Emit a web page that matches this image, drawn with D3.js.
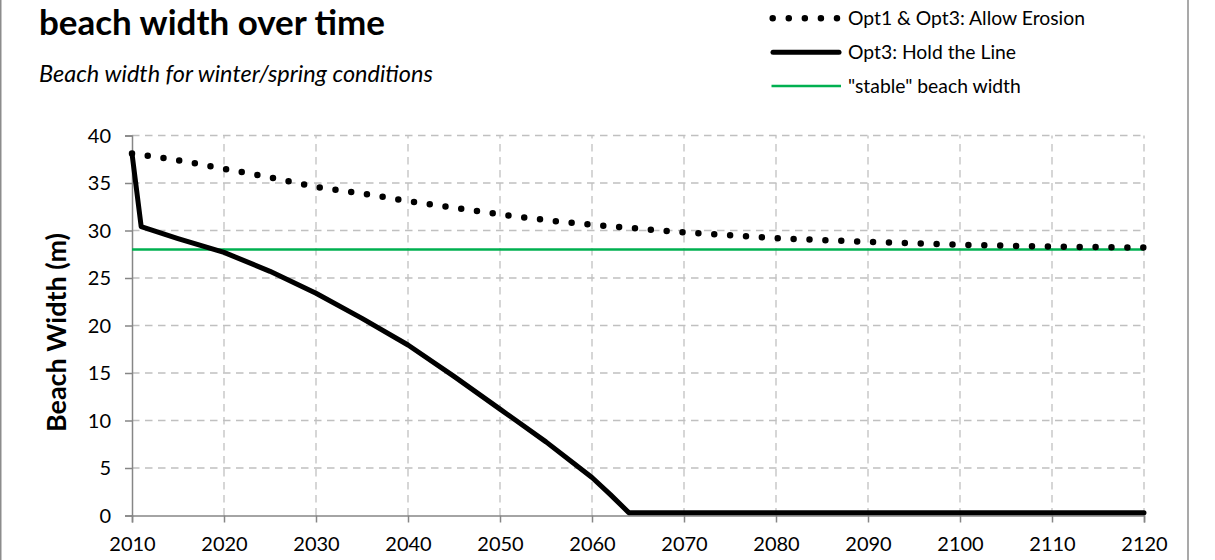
<!DOCTYPE html>
<html>
<head>
<meta charset="utf-8">
<script src="https://cdn.jsdelivr.net/npm/d3@7"></script>
<style>
  html, body { margin: 0; padding: 0; background: #fff; }
  svg { display: block; font-family: Lato, "Open Sans", sans-serif; }
</style>
</head>
<body>
<svg id="chart" width="1215" height="560"></svg>
<script>
// ---- data ----
const titleText = "beach width over time";
const subtitleText = "Beach width for winter/spring conditions";
const yAxisTitle = "Beach Width (m)";
const seriesNames = ["Opt1 & Opt3: Allow Erosion", "Opt3: Hold the Line", "\"stable\" beach width"];

const erosionYears  = [2010, 2015, 2020, 2025, 2030, 2035, 2040, 2045, 2050, 2055, 2060, 2065, 2070, 2075, 2080, 2085, 2090, 2095, 2100, 2105, 2110, 2115, 2120];
const erosionValues = [38.1, 37.4, 36.5, 35.6, 34.6, 33.9, 33.1, 32.4, 31.7, 31.1, 30.6, 30.2, 29.8, 29.5, 29.2, 29.0, 28.8, 28.65, 28.5, 28.4, 28.3, 28.25, 28.2];

const holdYears  = [2010, 2011, 2015, 2020, 2025, 2030, 2035, 2040, 2045, 2050, 2055, 2058, 2060, 2062, 2064, 2120];
const holdValues = [38.1, 30.4, 29.15, 27.7, 25.7, 23.4, 20.75, 17.95, 14.65, 11.2, 7.75, 5.5, 4.0, 2.2, 0.3, 0.3];

const stableYears  = [2010, 2120];
const stableValues = [28, 28];

const xTicks = [2010, 2020, 2030, 2040, 2050, 2060, 2070, 2080, 2090, 2100, 2110, 2120];
const yTicks = [0, 5, 10, 15, 20, 25, 30, 35, 40];

// ---- layout ----
const svg = d3.select("#chart");
const plot = { left: 132, right: 1144, top: 135.5, bottom: 515.5 };

const x = d3.scaleLinear().domain([2010, 2120]).range([plot.left, plot.right]);
const y = d3.scaleLinear().domain([0, 40]).range([plot.bottom, plot.top]);

function fitWidth(sel, target) {
  const w = sel.node().getComputedTextLength();
  const fs = parseFloat(sel.attr("font-size"));
  sel.attr("font-size", (fs * target / w).toFixed(2));
}

// chart frame (left and right edges visible)
svg.append("line").attr("x1", 0.75).attr("x2", 0.75).attr("y1", 0).attr("y2", 560)
  .attr("stroke", "#8c8c8c").attr("stroke-width", 1.5);
svg.append("line").attr("x1", 1188).attr("x2", 1188).attr("y1", 0).attr("y2", 560)
  .attr("stroke", "#8c8c8c").attr("stroke-width", 1.5);

// gridlines
const grid = svg.append("g");
grid.selectAll("line.h").data(yTicks.filter(d => d > 0)).join("line")
  .attr("x1", plot.left).attr("x2", plot.right)
  .attr("y1", d => y(d)).attr("y2", d => y(d))
  .attr("stroke", "#c0c0c0").attr("stroke-width", 1.3).attr("stroke-dasharray", "7.5,5.5");
grid.selectAll("line.v").data(xTicks.filter(d => d > 2010)).join("line")
  .attr("x1", d => x(d)).attr("x2", d => x(d))
  .attr("y1", plot.bottom).attr("y2", plot.top)
  .attr("stroke", "#c0c0c0").attr("stroke-width", 1.3).attr("stroke-dasharray", "7.5,5.5");

// axes
const yAxis = d3.axisLeft(y).tickValues(yTicks).tickSize(7).tickPadding(14).tickFormat(d3.format("d"));
const xAxis = d3.axisBottom(x).tickValues(xTicks).tickSize(7).tickPadding(13).tickFormat(d3.format("d"));

const gy = svg.append("g").attr("transform", `translate(${plot.left},0)`).call(yAxis);
const gx = svg.append("g").attr("transform", `translate(0,${plot.bottom})`).call(xAxis);
[gx, gy].forEach(g => {
  g.select(".domain").attr("stroke", "#868686").attr("stroke-width", 1.5);
  g.selectAll(".tick line").attr("stroke", "#868686").attr("stroke-width", 1.5);
  g.selectAll(".tick text").attr("fill", "#000").attr("font-size", 20)
    .attr("font-family", "Lato, sans-serif");
});
gy.selectAll(".tick text").attr("dy", "0.34em");
gx.selectAll(".tick text").attr("dy", "0.76em");

// y axis title
const yt = svg.append("text")
  .attr("transform", `translate(66,332.5) rotate(-90)`)
  .attr("text-anchor", "middle")
  .attr("font-weight", "bold").attr("font-size", 22)
  .text(yAxisTitle);
fitWidth(yt, 199);

// series
const line = d3.line().x(d => x(d[0])).y(d => y(d[1]));

svg.append("path")
  .datum(d3.zip(stableYears, stableValues))
  .attr("d", line).attr("fill", "none")
  .attr("stroke", "#00b050").attr("stroke-width", 2.5);

svg.append("path")
  .datum(d3.zip(holdYears, holdValues))
  .attr("d", line).attr("fill", "none")
  .attr("stroke", "#000").attr("stroke-width", 5)
  .attr("stroke-linejoin", "round").attr("stroke-linecap", "round");

svg.append("path")
  .datum(d3.zip(erosionYears, erosionValues))
  .attr("d", d3.line().x(d => x(d[0])).y(d => y(d[1])).curve(d3.curveMonotoneX))
  .attr("fill", "none")
  .attr("stroke", "#000").attr("stroke-width", 6.5)
  .attr("stroke-linecap", "round").attr("stroke-dasharray", "0,15.9");

// titles
const t1 = svg.append("text").attr("x", 39).attr("y", 35)
  .attr("font-weight", "bold").attr("font-size", 30).text(titleText);
fitWidth(t1, 346);
const t2 = svg.append("text").attr("x", 39).attr("y", 81.5)
  .attr("font-style", "italic").attr("font-size", 19).text(subtitleText);
fitWidth(t2, 394);

// legend
const legY = [18.3, 52.3, 86];
const lg = svg.append("g");
lg.append("line").attr("x1", 772.7).attr("x2", 840).attr("y1", legY[0]).attr("y2", legY[0])
  .attr("stroke", "#000").attr("stroke-width", 6.5).attr("stroke-linecap", "round")
  .attr("stroke-dasharray", "0,16.07");
lg.append("line").attr("x1", 773).attr("x2", 839).attr("y1", legY[1]).attr("y2", legY[1])
  .attr("stroke", "#000").attr("stroke-width", 5).attr("stroke-linecap", "round");
lg.append("line").attr("x1", 771.5).attr("x2", 841).attr("y1", legY[2]).attr("y2", legY[2])
  .attr("stroke", "#00b050").attr("stroke-width", 2.5);
const legTexts = lg.selectAll("text").data(seriesNames).join("text")
  .attr("x", 848).attr("y", (d, i) => legY[i]).attr("dy", "0.35em")
  .attr("font-size", 17).text(d => d);
const w0 = legTexts.node().getComputedTextLength();
legTexts.attr("font-size", (17 * 237 / w0).toFixed(2));
</script>
</body>
</html>
